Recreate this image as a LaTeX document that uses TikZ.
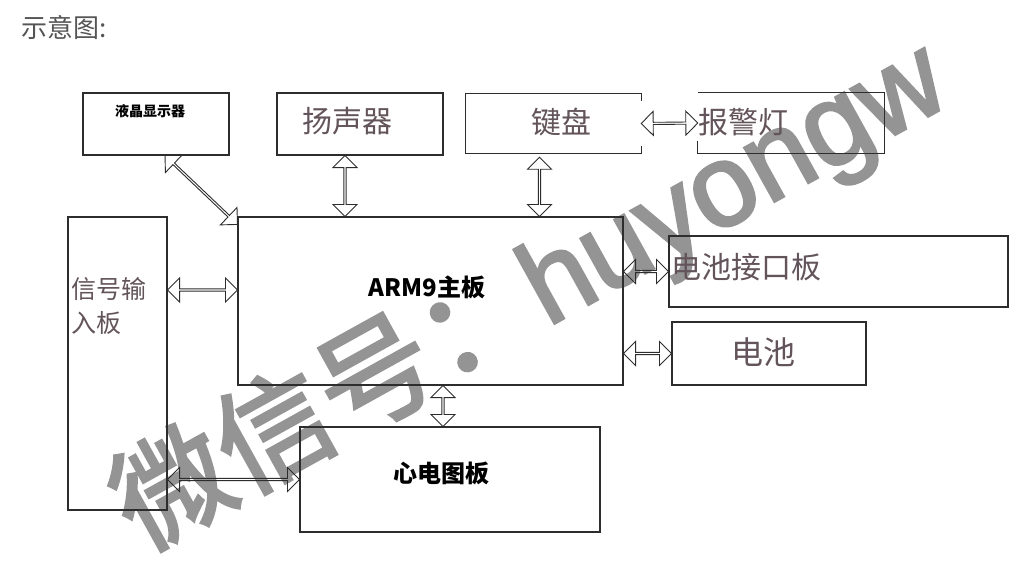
\documentclass[tikz,border=0pt]{standalone}
\usepackage{fontspec}
\newfontfamily\cjk{Noto Sans CJK SC}
\newfontfamily\wmcjk[FakeBold=2.5]{Noto Sans CJK SC}
\newfontfamily\wmlat[FakeBold=2.5]{Liberation Sans}
\usetikzlibrary{arrows.meta,calc,shapes.arrows}
\definecolor{labc}{RGB}{98,84,90}
\definecolor{linec}{RGB}{45,45,45}
\definecolor{titc}{RGB}{85,85,85}
\definecolor{wmc}{RGB}{148,148,148}
\newcommand\dblarr[2]{\path let \p1=($(#2)-(#1)$), \n1={veclen(\x1,\y1)} in (#1) -- (#2) node[midway, sloped, darr, minimum height=\n1] {};}
\begin{document}
\begin{tikzpicture}[x=1pt,y=-1pt,
  box/.style={draw=linec, line width=1.1pt, inner sep=0pt},
  openbox/.style={draw=none, inner sep=0pt},
  lab/.style={inner sep=0pt, text=labc, font=\cjk\fontsize{30pt}{34pt}\selectfont},
  blab/.style={inner sep=0pt, text=black, font=\cjk\bfseries\fontsize{24pt}{28pt}\selectfont},
  darr/.style={double arrow, draw=linec, line width=0.9pt, inner sep=0pt, minimum width=24pt, double arrow head extend=4.5pt},
  wmark/.style={inner sep=0pt, text=wmc}]
\useasboundingbox (0,0) rectangle (1024,574);
\fill[white] (0,0) rectangle (1024,574);

% watermark (behind the drawing)
\node[wmark, rotate=29] (wm) at (530,295) {\wmcjk\fontsize{116pt}{116pt}\selectfont 微信号：\wmlat huyongw};

% title
\node[anchor=west, inner sep=0pt, text=titc, font=\cjk\fontsize{26pt}{30pt}\selectfont] (title) at (21,27) {示意图:};

% boxes
\node[box, minimum width=146pt, minimum height=62pt] (lcd) at (156,124) {};
\node[box, minimum width=166pt, minimum height=62pt] (spk) at (360,124) {};
\node[openbox, minimum width=175pt, minimum height=59pt] (kbd) at (553.5,123.5) {};
\node[openbox, minimum width=186pt, minimum height=60pt] (alarm) at (791,123) {};
\node[box, minimum width=99pt, minimum height=293pt] (sig) at (117.5,363.5) {};
\node[box, minimum width=385pt, minimum height=168pt] (arm) at (430.5,301) {};
\node[box, minimum width=339pt, minimum height=71pt] (bif) at (838.5,271.5) {};
\node[box, minimum width=194pt, minimum height=63pt] (bat) at (769,353.5) {};
\node[box, minimum width=300pt, minimum height=105pt] (ecg) at (450,479.5) {};

% partially drawn outlines
\draw[draw=linec, line width=1.1pt] ([yshift=-7pt]kbd.north east) -- (kbd.north east) -- (kbd.north west) -- (kbd.south west) -- (kbd.south east) -- ([yshift=7pt]kbd.south east);
\draw[draw=linec, line width=1.1pt] (alarm.north west) -- (alarm.north east) -- (alarm.south east) -- (alarm.south west) -- ([yshift=12pt]alarm.south west);

% connector end points
\coordinate (c1a) at ([xshift=9pt]lcd.south);
\coordinate (c1b) at ([yshift=-8pt]arm.north west);
\coordinate (c2a) at ([xshift=-15pt]spk.south);
\coordinate (c2b) at ([xshift=-15pt]spk.south |- arm.north);
\coordinate (c3a) at ([xshift=-14pt,yshift=-4pt]kbd.south);
\coordinate (c3b) at ([xshift=-14pt]kbd.south |- arm.north);
\coordinate (ys) at (0,290);
\coordinate (c5a) at (sig.east |- ys);
\coordinate (c5b) at (arm.west |- ys);
\coordinate (c6a) at (arm.east |- bif.west);
\coordinate (c7a) at (arm.east |- bat.west);
\coordinate (c8a) at ([xshift=-7pt]ecg.north |- arm.south);
\coordinate (c8b) at ([xshift=-7pt]ecg.north);
\coordinate (c9a) at (sig.east |- ecg.west);

% connectors
\dblarr{c1a}{c1b}
\dblarr{c2a}{c2b}
\dblarr{c3a}{c3b}
\dblarr{kbd.east}{alarm.west}
\dblarr{c5a}{c5b}
\dblarr{c6a}{bif.west}
\dblarr{c7a}{bat.west}
\dblarr{c8a}{c8b}
\dblarr{c9a}{ecg.west}

% labels
\node[inner sep=0pt, font=\cjk\bfseries\fontsize{14pt}{16pt}\selectfont] (lcdT) at (150,111) {液晶显示器};
\node[lab] (spkT) at (347,121) {扬声器};
\node[lab] (kbdT) at (561,122) {键盘};
\node[lab] (alarmT) at (743,122) {报警灯};
\node[lab, anchor=north west, align=left, font=\cjk\fontsize{25pt}{34pt}\selectfont] (sigT) at (71,277) {信号输\\入板};
\node[blab] (armT) at (427,287) {ARM9主板};
\node[lab, anchor=west] (bifT) at (671,267) {电池接口板};
\node[lab, font=\cjk\fontsize{32pt}{36pt}\selectfont] (batT) at (763,352) {电池};
\node[blab] (ecgT) at (441,473) {心电图板};
\end{tikzpicture}
\end{document}
